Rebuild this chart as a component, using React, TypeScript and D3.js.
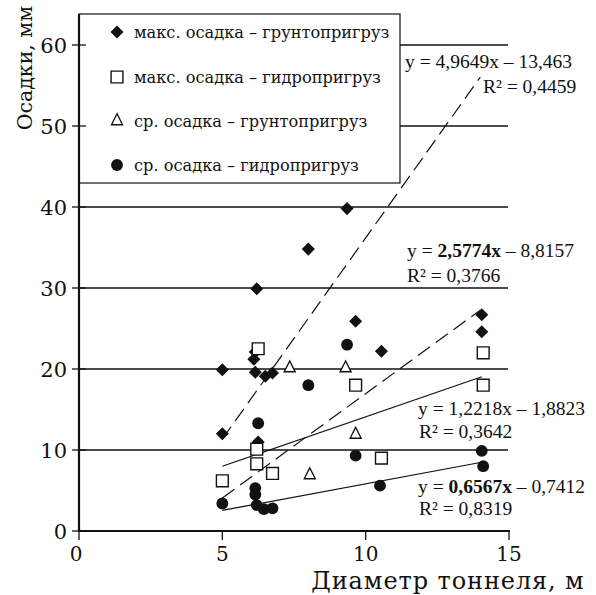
import React, { useEffect, useRef } from "react";
import * as d3 from "d3";

const W = 596;
const H = 595;

// точки: [диаметр, осадка]
const maxGrunt: [number, number][] = [
  [5.0, 19.9], [5.0, 12.0], [6.2, 29.9], [6.15, 22.1], [6.1, 21.2], [6.15, 19.6],
  [6.5, 19.1], [6.75, 19.5], [6.25, 11.0], [8.0, 34.8], [9.35, 39.8], [9.65, 25.9],
  [10.55, 22.2], [14.05, 26.7], [14.05, 24.6],
];
const maxHydro: [number, number][] = [
  [5.0, 6.2], [6.25, 22.5], [6.2, 10.1], [6.2, 8.3], [6.75, 7.1], [9.65, 18.0],
  [10.55, 9.0], [14.1, 22.0], [14.1, 18.0],
];
const avgGrunt: [number, number][] = [
  [7.35, 20.1], [9.3, 20.1], [8.05, 6.9], [9.65, 11.9],
];
const avgHydro: [number, number][] = [
  [5.0, 3.4], [6.25, 13.3], [6.15, 5.3], [6.15, 4.5], [6.2, 3.2], [6.45, 2.7],
  [6.75, 2.8], [8.0, 18.0], [9.35, 23.0], [9.65, 9.3], [10.5, 5.6], [14.05, 9.9],
  [14.1, 8.0],
];

const legendLabels = [
  "макс. осадка – грунтопригруз",
  "макс. осадка – гидропригруз",
  "ср. осадка – грунтопригруз",
  "ср. осадка – гидропригруз",
];

// линии тренда
const trendSlope = [4.9649, 2.5774, 1.2218, 0.6567];
const trendIntercept = [-13.463, -8.8157, 1.8823, -0.7412];
const trendFrom = [5.0, 5.0, 5.0, 5.0];
const trendTo = [14.0, 14.0, 14.05, 14.05];
const eqCoef = ["4,9649x", "2,5774x", "1,2218x", "0,6567x"];
const eqFree = ["13,463", "8,8157", "1,8823", "0,7412"];
const r2Text = ["R² = 0,4459", "R² = 0,3766", "R² = 0,3642", "R² = 0,8319"];

const xTicks = [0, 5, 10, 15];
const yTicks = [0, 10, 20, 30, 40, 50, 60];

const App = () => {
  const svgRef = useRef(null);

  useEffect(() => {
    const svg = d3.select(svgRef.current);
    svg.selectAll("*").remove();

    const x = d3.scaleLinear().domain([0, 15]).range([79, 509]);
    const y = d3.scaleLinear().domain([0, 60]).range([531, 45]);
    const serif = "'DejaVu Serif', serif";
    const lib = "'Liberation Serif', serif";

    // сетка
    svg.append("g")
      .selectAll("line")
      .data(yTicks.filter((d) => d > 0))
      .enter().append("line")
        .attr("x1", x(0)).attr("x2", x(15) - 1)
        .attr("y1", (d) => y(d)).attr("y2", (d) => y(d))
        .attr("stroke", "#111").attr("stroke-width", 1.3);

    // линии тренда
    const line = d3.line().x((d) => x(d[0])).y((d) => y(d[1]));
    svg.append("g")
      .selectAll("path")
      .data(trendSlope.map((k, i) => i))
      .enter().append("path")
        .attr("d", (i) => line([
          [trendFrom[i], trendSlope[i] * trendFrom[i] + trendIntercept[i]],
          [trendTo[i], trendSlope[i] * trendTo[i] + trendIntercept[i]],
        ]))
        .attr("fill", "none")
        .attr("stroke", "#111")
        .attr("stroke-width", 1.2)
        .attr("stroke-dasharray", (i) => (i < 2 ? "15,7" : null));

    // легенда
    const lg = svg.append("g");
    lg.append("rect")
      .attr("x", 79).attr("y", 14).attr("width", 321).attr("height", 169)
      .attr("fill", "white").attr("stroke", "#111").attr("stroke-width", 1.2);

    const diamond = d3.symbol(d3.symbolSquare, 85)();
    const square = d3.symbol(d3.symbolSquare, 140)();
    const triangle = d3.symbol(d3.symbolTriangle, 52)();
    const circle = d3.symbol(d3.symbolCircle, 110)();

    const drawMark = (g, kind, cx, cy) => {
      if (kind === 0) {
        g.append("path").attr("d", diamond)
          .attr("transform", `translate(${cx},${cy}) rotate(45)`).attr("fill", "#111");
      } else if (kind === 1) {
        g.append("path").attr("d", square)
          .attr("transform", `translate(${cx},${cy})`)
          .attr("fill", "white").attr("stroke", "#111").attr("stroke-width", 1.4);
      } else if (kind === 2) {
        g.append("path").attr("d", triangle)
          .attr("transform", `translate(${cx},${cy}) scale(1,1.15)`)
          .attr("fill", "white").attr("stroke", "#111").attr("stroke-width", 1.3);
      } else {
        g.append("path").attr("d", circle)
          .attr("transform", `translate(${cx},${cy})`).attr("fill", "#111");
      }
    };

    const rowY = [32, 77, 121, 165];
    legendLabels.forEach((lab, i) => {
      drawMark(lg, i, 117, rowY[i]);
      lg.append("text")
        .attr("x", 134).attr("y", rowY[i] + 5.5)
        .attr("font-family", serif).attr("font-size", 16.2)
        .attr("fill", "#111")
        .text(lab);
    });

    // точки
    const pts = svg.append("g");
    [maxGrunt, maxHydro, avgGrunt, avgHydro].forEach((series, k) => {
      series.forEach((p) => drawMark(pts, k, x(p[0]), y(p[1])));
    });

    // оси
    const ax = svg.append("g").attr("stroke", "#111");
    ax.append("line").attr("x1", 79).attr("x2", 79).attr("y1", 14).attr("y2", 532)
      .attr("stroke-width", 2.2);
    ax.append("line").attr("x1", 78).attr("x2", 510).attr("y1", 531).attr("y2", 531)
      .attr("stroke-width", 2.2);
    yTicks.forEach((t) => {
      ax.append("line").attr("x1", 72).attr("x2", 86).attr("y1", y(t)).attr("y2", y(t))
        .attr("stroke-width", 1.3);
    });
    xTicks.forEach((t) => {
      ax.append("line").attr("x1", x(t)).attr("x2", x(t)).attr("y1", 531).attr("y2", 540)
        .attr("stroke-width", 1.3);
    });

    svg.append("g")
      .selectAll("text")
      .data(yTicks)
      .enter().append("text")
        .attr("x", 67).attr("y", (d) => y(d) + 7.5)
        .attr("text-anchor", "end")
        .attr("font-family", serif).attr("font-size", 21)
        .attr("fill", "#111")
        .text((d) => d);

    svg.append("g")
      .selectAll("text")
      .data(xTicks)
      .enter().append("text")
        .attr("x", (d) => x(d) - (d === 0 ? 3 : 0)).attr("y", 561)
        .attr("text-anchor", "middle")
        .attr("font-family", serif).attr("font-size", 20)
        .attr("fill", "#111")
        .text((d) => d);

    svg.append("text")
      .attr("transform", "translate(32,68) rotate(-90)")
      .attr("text-anchor", "middle")
      .attr("font-family", serif).attr("font-size", 20.5)
      .attr("fill", "#111")
      .text("Осадки, мм");

    svg.append("text")
      .attr("x", 448).attr("y", 588.5)
      .attr("text-anchor", "middle")
      .attr("font-family", serif).attr("font-size", 24)
      .attr("letter-spacing", 0.9)
      .attr("fill", "#111")
      .text("Диаметр тоннеля, м");

    // уравнения
    const eqX = [405, 407, 418, 418];
    const eqY = [68, 257, 415, 493];
    const r2X = [483, 407, 419, 419];
    const r2Y = [93, 282, 438, 515];
    const bold = [false, true, false, true];
    eqCoef.forEach((c, i) => {
      const t = svg.append("text")
        .attr("x", eqX[i]).attr("y", eqY[i])
        .attr("font-family", lib).attr("font-size", 19.5)
        .attr("fill", "#111");
      t.append("tspan").text("y = ");
      t.append("tspan").attr("font-weight", bold[i] ? "bold" : null).text(c);
      t.append("tspan").text(" – " + eqFree[i]);
      svg.append("text")
        .attr("x", r2X[i]).attr("y", r2Y[i])
        .attr("font-family", lib).attr("font-size", 19.5)
        .attr("fill", "#111")
        .text(r2Text[i]);
    });
  }, []);

  return (
    <svg
      ref={svgRef}
      width={W}
      height={H}
      style={{ position: "absolute", left: 0, top: 0, background: "white" }}
    />
  );
};

export default App;
